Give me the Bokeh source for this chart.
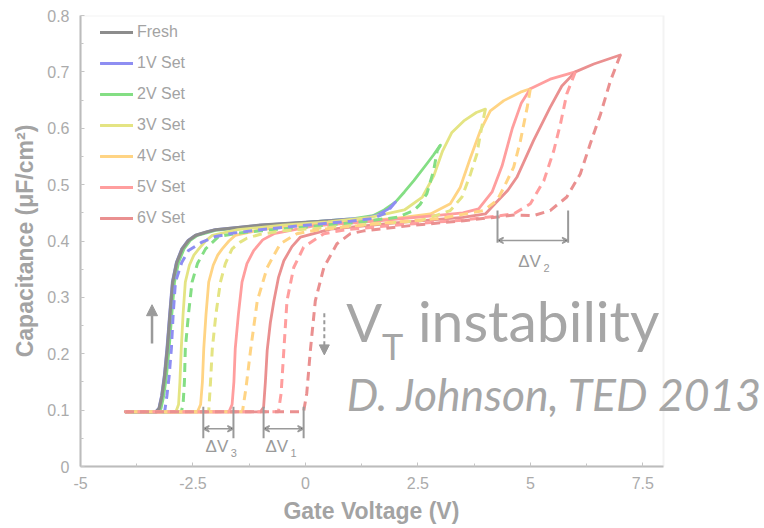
from bokeh.plotting import figure
from bokeh.models import (FixedTicker, Legend, LegendItem, Label, Arrow, NormalHead,
                          VeeHead, Range1d, BoxAnnotation)
from bokeh.embed import file_html
from bokeh.resources import INLINE

# ---------------- data ----------------
fresh_up_v = [-4.0, -3.32, -3.25, -3.19, -3.13, -3.07, -3.01, -2.95, -2.86, -2.74, -2.6, -2.44, -2.2, -2.0, -1.5, -1.0, 0.0, 1.0]
fresh_up_c = [0.097, 0.097, 0.103, 0.125, 0.16, 0.209, 0.27, 0.327, 0.362, 0.386, 0.401, 0.41, 0.416, 0.42, 0.424, 0.428, 0.433, 0.438]

set1_up_v = [-4.0, -3.33, -3.26, -3.2, -3.14, -3.08, -3.02, -2.96, -2.87, -2.75, -2.61, -2.45, -2.2, -2.0, -1.0, 0.0, 1.0, 1.3, 1.6, 1.85, 2.0]
set1_up_c = [0.097, 0.097, 0.103, 0.125, 0.16, 0.209, 0.27, 0.327, 0.362, 0.386, 0.401, 0.41, 0.416, 0.42, 0.428, 0.433, 0.439, 0.44, 0.446, 0.457, 0.469]
set1_dn_v = [2.0, 1.8, 1.5, 1.0, 0.0, -1.0, -1.6, -2.0, -2.3, -2.6, -2.75, -2.89, -2.94, -2.98, -3.03, -3.08, -3.13, -4.0]
set1_dn_c = [0.469, 0.45, 0.44, 0.435, 0.428, 0.42, 0.414, 0.408, 0.398, 0.383, 0.362, 0.327, 0.27, 0.209, 0.16, 0.125, 0.097, 0.097]

set2_up_v = [-4.0, -3.28, -3.21, -3.15, -3.09, -3.03, -2.97, -2.91, -2.82, -2.7, -2.56, -2.4, -2.0, -1.0, 0.0, 1.0, 1.5, 1.75, 2.0, 2.2, 2.41, 2.7, 2.85, 3.0]
set2_up_c = [0.097, 0.097, 0.103, 0.125, 0.16, 0.209, 0.27, 0.327, 0.362, 0.386, 0.401, 0.41, 0.419, 0.427, 0.433, 0.439, 0.445, 0.455, 0.469, 0.487, 0.507, 0.537, 0.553, 0.57]
set2_dn_v = [3.0, 2.93, 2.85, 2.7, 2.55, 2.41, 2.04, 1.0, 0.0, -1.0, -1.5, -1.93, -2.22, -2.4, -2.52, -2.6, -2.67, -2.69, -2.72, -2.76, -4.0]
set2_dn_c = [0.57, 0.56, 0.525, 0.484, 0.465, 0.454, 0.442, 0.432, 0.425, 0.418, 0.414, 0.408, 0.386, 0.36, 0.327, 0.27, 0.209, 0.15, 0.11, 0.097, 0.097]

set3_up_v = [-4.0, -2.88, -2.82, -2.79, -2.76, -2.72, -2.67, -2.58, -2.48, -2.37, -2.22, -2.07, -1.5, -0.5, 0.5, 1.44, 2.2, 2.6, 2.85, 3.05, 3.25, 3.52, 3.8, 4.0]
set3_up_c = [0.097, 0.097, 0.11, 0.15, 0.209, 0.27, 0.327, 0.357, 0.375, 0.386, 0.4, 0.41, 0.42, 0.428, 0.434, 0.442, 0.455, 0.478, 0.515, 0.56, 0.592, 0.613, 0.628, 0.634]
set3_dn_v = [4.0, 3.89, 3.81, 3.67, 3.48, 3.22, 2.56, 1.5, 0.5, -0.5, -1.0, -1.3, -1.45, -1.63, -1.78, -1.89, -1.99, -2.07, -2.11, -2.15, -4.0]
set3_dn_c = [0.634, 0.59, 0.554, 0.519, 0.478, 0.454, 0.436, 0.43, 0.424, 0.418, 0.412, 0.405, 0.398, 0.386, 0.36, 0.327, 0.27, 0.209, 0.15, 0.097, 0.097]

set4_up_v = [-4.0, -2.4, -2.33, -2.29, -2.26, -2.21, -2.15, -2.05, -1.95, -1.85, -1.7, -1.56, -1.0, 0.0, 1.0, 2.0, 2.78, 3.22, 3.44, 3.67, 3.89, 4.11, 4.41, 4.78, 5.0]
set4_up_c = [0.097, 0.097, 0.11, 0.15, 0.209, 0.27, 0.327, 0.357, 0.375, 0.386, 0.4, 0.41, 0.42, 0.428, 0.434, 0.44, 0.448, 0.466, 0.495, 0.548, 0.596, 0.631, 0.649, 0.664, 0.67]
set4_dn_v = [5.0, 4.93, 4.78, 4.63, 4.41, 4.26, 3.96, 3.0, 1.5, 0.3, -0.19, -0.56, -0.85, -1.07, -1.22, -1.32, -1.4, -4.0]
set4_dn_c = [0.67, 0.637, 0.578, 0.531, 0.495, 0.472, 0.454, 0.44, 0.43, 0.42, 0.413, 0.395, 0.353, 0.294, 0.206, 0.14, 0.097, 0.097]

set5_up_v = [-4.0, -1.7, -1.63, -1.59, -1.56, -1.49, -1.41, -1.3, -1.15, -0.95, -0.7, 0.19, 1.5, 3.0, 3.5, 3.85, 4.15, 4.37, 4.6, 4.8, 5.0, 5.44, 6.0]
set5_up_c = [0.097, 0.097, 0.11, 0.15, 0.209, 0.27, 0.327, 0.36, 0.383, 0.402, 0.413, 0.427, 0.435, 0.446, 0.45, 0.457, 0.487, 0.533, 0.6, 0.645, 0.67, 0.687, 0.7]
set5_dn_v = [6.0, 5.81, 5.67, 5.52, 5.3, 5.0, 4.63, 3.5, 2.0, 0.9, 0.41, -0.04, -0.26, -0.41, -0.48, -0.54, -0.6, -4.0]
set5_dn_c = [0.7, 0.661, 0.608, 0.56, 0.507, 0.466, 0.448, 0.437, 0.428, 0.42, 0.413, 0.389, 0.353, 0.294, 0.206, 0.13, 0.097, 0.097]

set6_up_v = [-4.0, -1.0, -0.93, -0.89, -0.85, -0.78, -0.7, -0.6, -0.48, -0.3, -0.11, 0.56, 2.0, 3.5, 4.0, 4.26, 4.5, 4.7, 5.07, 5.44, 5.7, 6.0, 6.41, 7.0]
set6_up_c = [0.097, 0.097, 0.105, 0.15, 0.206, 0.255, 0.294, 0.335, 0.365, 0.39, 0.407, 0.421, 0.432, 0.442, 0.448, 0.47, 0.49, 0.513, 0.578, 0.637, 0.675, 0.7, 0.714, 0.73]
set6_dn_v = [7.0, 6.78, 6.56, 6.33, 6.11, 5.81, 5.44, 5.07, 4.63, 3.52, 2.41, 1.3, 1.0, 0.7, 0.41, 0.22, 0.11, 0.03, -0.04, -4.0]
set6_dn_c = [0.73, 0.684, 0.625, 0.572, 0.519, 0.478, 0.454, 0.445, 0.446, 0.436, 0.428, 0.418, 0.413, 0.395, 0.353, 0.294, 0.206, 0.13, 0.097, 0.097]

series_names = ["Fresh", "1V Set", "2V Set", "3V Set", "4V Set", "5V Set", "6V Set"]
x_ticks = [-5, -2.5, 0, 2.5, 5, 7.5]
x_tick_labels = ["-5", "-2.5", "0", "2.5", "5", "7.5"]
y_ticks = [0, 0.1, 0.2, 0.3, 0.4, 0.5, 0.6, 0.7, 0.8]
y_tick_labels = ["0", "0.1", "0.2", "0.3", "0.4", "0.5", "0.6", "0.7", "0.8"]

# ---------------- styling ----------------
colors = ["#8c8c8c", "#8e8ef2", "#84de84", "#e4e483", "#ffd484", "#ff9e9e", "#ea9090"]
draw_order = [2, 1, 0, 3, 4, 5, 6]   # green, then blue, then grey on top at the first rise
TXT = "#a3a3a3"
ANN = "#9a9a9a"
FONT = "Liberation Sans"
X_LO, X_HI = -5, 7.96          # axis box extent
X_VIEW_HI = 10.205             # frame extends to the page edge (room for the side text)

p = figure(frame_width=684, frame_height=451, output_backend="svg", toolbar_location=None,
           x_range=Range1d(X_LO, X_VIEW_HI), y_range=Range1d(0, 0.8),
           min_border_left=80, min_border_right=0, min_border_top=15, min_border_bottom=62,
           background_fill_color="white", border_fill_color="white")
p.xgrid.visible = False
p.ygrid.visible = False
p.outline_line_color = None
p.add_layout(BoxAnnotation(left=X_LO, right=X_HI, bottom=0, top=0.8, fill_alpha=0,
                           line_color="#d6d6d6", line_width=2))

x_minor = [t + 1.25 for t in x_ticks[:-1]]
y_minor = [round(t + 0.05, 2) for t in y_ticks[:-1]]
p.xaxis.ticker = FixedTicker(ticks=x_ticks, minor_ticks=x_minor)
p.yaxis.ticker = FixedTicker(ticks=y_ticks, minor_ticks=y_minor)
p.xaxis.major_label_overrides = {t: l for t, l in zip(x_ticks, x_tick_labels)}
p.yaxis.major_label_overrides = {t: l for t, l in zip(y_ticks, y_tick_labels)}
p.xaxis.bounds = (X_LO, X_HI)

for ax in (p.xaxis[0], p.yaxis[0]):
    ax.axis_line_color = "#b8b8b8"
    ax.axis_line_width = 2
    ax.major_tick_in = 4
    ax.major_tick_out = 0
    ax.minor_tick_in = 3
    ax.minor_tick_out = 0
    ax.major_tick_line_color = "#c4c4c4"
    ax.minor_tick_line_color = "#c4c4c4"
    ax.major_label_text_font = FONT
    ax.major_label_text_font_size = "16px"
    ax.major_label_text_color = "#ababab"
    ax.axis_label_text_font = FONT
    ax.axis_label_text_font_size = "23px"
    ax.axis_label_text_font_style = "bold"
    ax.axis_label_text_color = TXT

# trailing no-break spaces keep the title centred under the axis box, not the wider frame
p.xaxis.axis_label = "Gate Voltage (V)" + "\u00a0" * 16
p.yaxis.axis_label = "Capacitance (\u03bcF/cm\u00b2)"
p.xaxis.major_label_standoff = 10
p.xaxis.axis_label_standoff = 6
p.yaxis.major_label_standoff = 11
p.yaxis.axis_label_standoff = 6

ups = [(fresh_up_v, fresh_up_c), (set1_up_v, set1_up_c), (set2_up_v, set2_up_c),
       (set3_up_v, set3_up_c), (set4_up_v, set4_up_c), (set5_up_v, set5_up_c),
       (set6_up_v, set6_up_c)]
downs = [None, (set1_dn_v, set1_dn_c), (set2_dn_v, set2_dn_c), (set3_dn_v, set3_dn_c),
         (set4_dn_v, set4_dn_c), (set5_dn_v, set5_dn_c), (set6_dn_v, set6_dn_c)]

solid_renderers = {}
for i in draw_order:
    uv, uc = ups[i]
    r = p.line(uv, uc, line_color=colors[i], line_width=3.2 if i == 0 else 2.8,
               line_join="round", line_cap="round")
    solid_renderers[i] = r
for i in draw_order:
    if downs[i] is not None:
        dv, dc = downs[i]
        p.line(dv, dc, line_color=colors[i], line_width=3, line_dash="9 6")

legend_items = [LegendItem(label=name, renderers=[solid_renderers[i]])
                for i, name in enumerate(series_names)]
legend = Legend(items=legend_items, location=(20, 238), glyph_width=33, glyph_height=20,
                label_height=20, spacing=11, label_standoff=4, padding=0, margin=0,
                border_line_color=None, background_fill_alpha=0,
                label_text_font=FONT, label_text_font_size="16px", label_text_color=TXT)
p.add_layout(legend)

# ---------------- annotations ----------------
p.add_layout(Arrow(end=NormalHead(size=11, fill_color=ANN, line_color=ANN),
                   x_start=-3.41, y_start=0.218, x_end=-3.41, y_end=0.287,
                   line_color=ANN, line_width=2.5))
p.add_layout(Arrow(end=NormalHead(size=10, fill_color=ANN, line_color=ANN),
                   x_start=0.42, y_start=0.272, x_end=0.42, y_end=0.198,
                   line_color=ANN, line_width=2, line_dash="4 3"))

# delta-V brackets: (left x, right x, bottom y, top y, arrow y, text x, text y, subscript)
brackets = [(-2.27, -1.60, 0.050, 0.106, 0.067, -2.22, 0.0355, "3"),
            (-0.93, -0.04, 0.050, 0.106, 0.067, -0.89, 0.0355, "1"),
            (4.27, 5.84, 0.397, 0.454, 0.401, 4.73, 0.3635, "2")]
for (xl, xr, yb, yt, ya, tx, ty, sub) in brackets:
    p.segment(x0=[xl, xr], y0=[yb, yb], x1=[xl, xr], y1=[yt, yt], line_color=ANN, line_width=2)
    p.add_layout(Arrow(start=VeeHead(size=6, line_color=ANN, line_width=1.5),
                       end=VeeHead(size=6, line_color=ANN, line_width=1.5),
                       x_start=xl, y_start=ya, x_end=xr, y_end=ya,
                       line_color=ANN, line_width=1.5))
    p.add_layout(Label(x=tx, y=ty, text="\u0394V", text_font=FONT, text_font_size="17px",
                       text_color=ANN, text_baseline="alphabetic", text_align="left"))
    p.add_layout(Label(x=tx + 0.56, y=ty - 0.012, text=sub, text_font=FONT,
                       text_font_size="11px", text_color=ANN, text_baseline="alphabetic",
                       text_align="left"))

BIG = "#a6a6a6"
p.add_layout(Label(x=0.91, y=0.257, text="V", text_font="Lato", text_font_size="53px",
                   text_color=BIG, text_baseline="alphabetic"))
p.add_layout(Label(x=1.70, y=0.2145, text="T", text_font="Lato", text_font_size="36px",
                   text_color=BIG, text_baseline="alphabetic"))
p.add_layout(Label(x=2.50, y=0.26, text="instability", text_font="Lato", text_font_size="57px",
                   text_color=BIG, text_baseline="alphabetic"))
p.add_layout(Label(x=0.92, y=0.129, text="D. Johnson, TED 2013", text_font="Lato",
                   text_font_style="italic", text_font_size="44.5px",
                   text_color=BIG, text_baseline="alphabetic"))

open("out.html", "w").write(file_html(p, INLINE))
